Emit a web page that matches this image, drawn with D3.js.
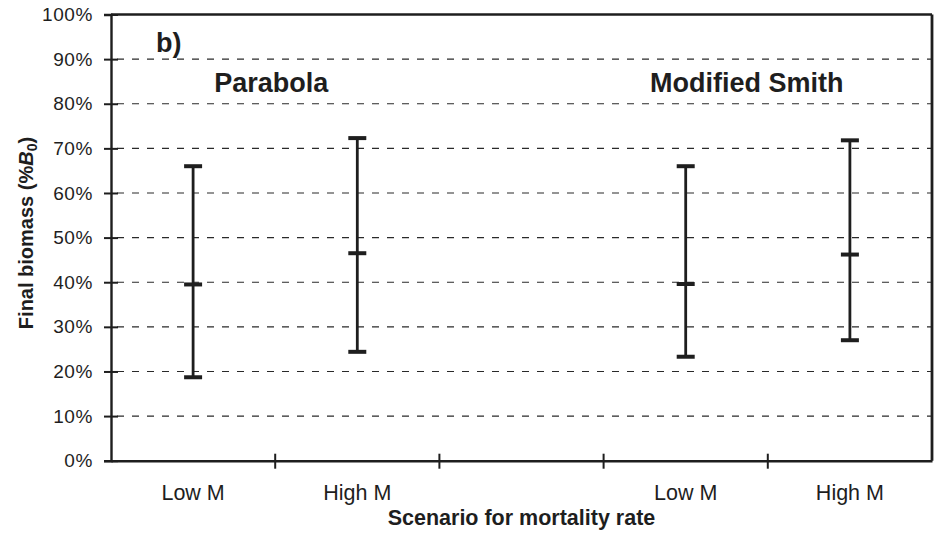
<!DOCTYPE html>
<html>
<head>
<meta charset="utf-8">
<script src="https://cdn.jsdelivr.net/npm/d3@7"></script>
<style>
  html, body { margin: 0; padding: 0; background: #fff; }
  svg { display: block; font-family: "Liberation Sans", Arial, Helvetica, sans-serif; }
</style>
</head>
<body>
<svg id="chart" width="935" height="535"></svg>
<script>
// Scenario slots along the x axis (the middle slot is an empty spacer between models)
const slots = ["pLow", "pHigh", "gap", "sLow", "sHigh"];
const slotLabels = ["Low M", "High M", "", "Low M", "High M"];
// Final biomass ranges, % of B0
const scenarios = ["pLow", "pHigh", "sLow", "sHigh"];
const lowValues = [18.7, 24.4, 23.3, 27.0];
const midValues = [39.5, 46.5, 39.6, 46.2];
const highValues = [66.0, 72.3, 66.0, 71.8];
const yTicks = [0, 10, 20, 30, 40, 50, 60, 70, 80, 90, 100];
const modelNames = ["Parabola", "Modified Smith"];

const svg = d3.select("#chart");
const margin = { left: 111, right: 3, top: 14.5, bottom: 74.3 };
const W = 935, H = 535;
const ink = "#1e1e1e";
const fontFam = "'Liberation Sans', Arial, sans-serif";

const x = d3.scaleBand().domain(slots).range([margin.left, W - margin.right]).paddingInner(0).paddingOuter(0);
const y = d3.scaleLinear().domain([0, 100]).range([H - margin.bottom, margin.top]);

// dashed horizontal gridlines
svg.append("g").selectAll("line").data(yTicks.filter(d => d > 0 && d < 100)).join("line")
  .attr("x1", margin.left + 6).attr("x2", W - margin.right)
  .attr("y1", d => y(d)).attr("y2", d => y(d))
  .attr("stroke", "#2a2a2a").attr("stroke-width", 1.1).attr("stroke-dasharray", "7,8");

// frame: top and right edges
svg.append("line").attr("x1", margin.left).attr("x2", W - margin.right)
  .attr("y1", y(100)).attr("y2", y(100)).attr("stroke", ink).attr("stroke-width", 2.4);
svg.append("line").attr("x1", W - margin.right).attr("x2", W - margin.right)
  .attr("y1", y(100)).attr("y2", y(0)).attr("stroke", ink).attr("stroke-width", 2.8);

// y axis
const yAxis = svg.append("g").attr("transform", `translate(${margin.left},0)`)
  .call(d3.axisLeft(y).tickValues(yTicks).tickFormat(d => d + "%").tickSize(7).tickPadding(11));
yAxis.select(".domain").attr("stroke", ink).attr("stroke-width", 2.4);
yAxis.selectAll(".tick line").attr("stroke", ink).attr("stroke-width", 2).attr("x2", 7).attr("x1", -7);
yAxis.selectAll(".tick text").attr("fill", ink).attr("font-size", 19).attr("font-family", fontFam)
  .attr("letter-spacing", 0.6);

// x axis with category labels centred in each slot
const xAxis = svg.append("g").attr("transform", `translate(0,${y(0)})`)
  .call(d3.axisBottom(x).tickFormat((d, i) => slotLabels[i]).tickSize(0).tickPadding(24));
xAxis.select(".domain").attr("stroke", ink).attr("stroke-width", 2.4);
xAxis.selectAll(".tick text").attr("fill", ink).attr("font-size", 21.5).attr("font-family", fontFam);

// boundary tick marks between slots
svg.append("g").selectAll("line").data(slots.slice(1)).join("line")
  .attr("x1", d => x(d)).attr("x2", d => x(d))
  .attr("y1", y(0) - 7).attr("y2", y(0) + 8)
  .attr("stroke", ink).attr("stroke-width", 2);

// error bars
const cx = d => x(d) + x.bandwidth() / 2;
const capW = 18;
const bars = svg.append("g").selectAll("g").data(scenarios).join("g");
bars.append("line")
  .attr("x1", d => cx(d)).attr("x2", d => cx(d))
  .attr("y1", (d, i) => y(lowValues[i])).attr("y2", (d, i) => y(highValues[i]))
  .attr("stroke", ink).attr("stroke-width", 2.8);
[lowValues, midValues, highValues].forEach(arr => {
  bars.append("line")
    .attr("x1", d => cx(d) - capW / 2).attr("x2", d => cx(d) + capW / 2)
    .attr("y1", (d, i) => y(arr[i])).attr("y2", (d, i) => y(arr[i]))
    .attr("stroke", ink).attr("stroke-width", 4);
});

// panel label and model names
svg.append("text").attr("x", 156).attr("y", 52).text("b)")
  .attr("font-size", 27).attr("font-weight", "bold").attr("fill", ink);
const modelCenters = [(x("pLow") + x("pHigh") + x.bandwidth()) / 2 - 4, (x("sLow") + x("sHigh") + x.bandwidth()) / 2 - 21];
svg.append("g").selectAll("text").data(modelNames).join("text")
  .attr("x", (d, i) => modelCenters[i]).attr("y", 92)
  .attr("text-anchor", "middle").attr("font-size", 27).attr("font-weight", "bold").attr("fill", ink)
  .text(d => d);

// axis titles
svg.append("text").attr("x", (margin.left + W - margin.right) / 2).attr("y", 525)
  .attr("text-anchor", "middle").attr("font-size", 21.5).attr("font-weight", "bold").attr("fill", ink)
  .text("Scenario for mortality rate");

const yt = svg.append("text").attr("transform", `translate(33,233) rotate(-90)`)
  .attr("text-anchor", "middle").attr("font-size", 20).attr("font-weight", "bold").attr("fill", ink);
yt.append("tspan").text("Final biomass (%");
yt.append("tspan").attr("font-style", "italic").text("B");
yt.append("tspan").attr("font-size", 14).attr("dy", 4).text("0");
yt.append("tspan").attr("dy", -4).text(")");
</script>
</body>
</html>
